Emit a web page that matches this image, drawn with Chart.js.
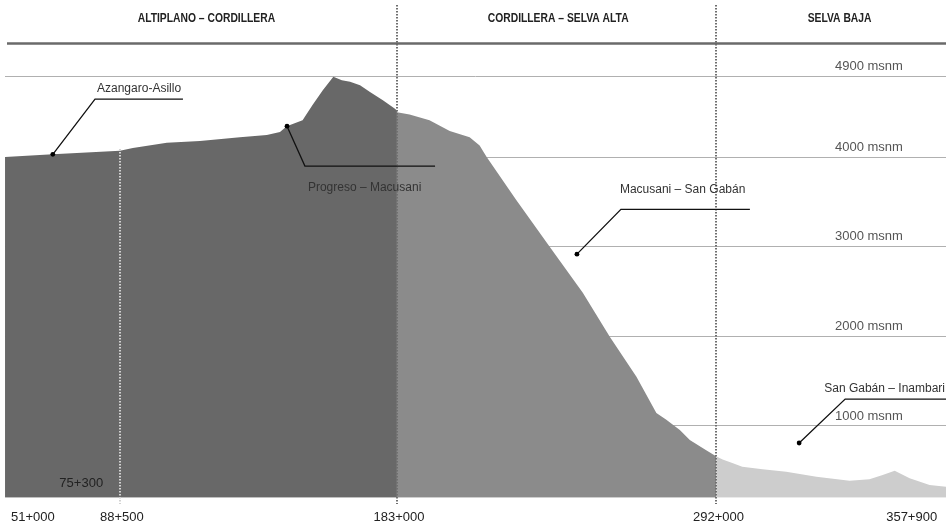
<!DOCTYPE html>
<html>
<head>
<meta charset="utf-8">
<script src="https://cdn.jsdelivr.net/npm/chart.js@4.4.1/dist/chart.umd.min.js"></script>
<style>
  html, body { margin: 0; padding: 0; background: #fff; }
  canvas { display: block; }
</style>
</head>
<body>
<canvas id="perfil" width="946" height="526"></canvas>
<script>
// km (progresiva) vs msnm
const altiplanoKm   = [49.3, 65.6, 88.5, 92.9, 104.5, 115.8, 129.4, 138.6, 143.1, 145.4, 150.8, 154.2, 157.7, 161.3, 164.2, 167.0, 170.4, 173.8, 178.2, 182.2, 183];
const altiplanoElev = [4000, 4030, 4070, 4100, 4160, 4180, 4220, 4245, 4280, 4345, 4410, 4580, 4745, 4895, 4858, 4839, 4802, 4727, 4634, 4542, 4520];

const cordilleraKm   = [183, 187.3, 194.1, 201, 207.8, 211.2, 213.6, 223.7, 235.1, 246.4, 255.6, 264.7, 271.5, 274.9, 279.5, 282.9, 288.5, 292];
const cordilleraElev = [4500, 4475, 4410, 4290, 4220, 4130, 4000, 3520, 3000, 2485, 1995, 1550, 1145, 1070, 955, 845, 730, 660];

const selvaKm   = [292, 294.1, 297.4, 300.8, 307.7, 315.8, 326.1, 337.4, 344.2, 348.7, 352.8, 357.9, 364.7, 370.3];
const selvaElev = [660, 625, 587, 546, 517, 490, 434, 390, 405, 453, 501, 416, 342, 323];

const tickKm     = [51, 88.5, 183, 292, 357.9];
const tickLabels = ['51+000', '88+500', '183+000', '292+000', '357+900'];

const gridElev   = [1000, 2000, 3000, 4000, 4900];
const gridLabels = ['1000 msnm', '2000 msnm', '3000 msnm', '4000 msnm', '4900 msnm'];

const sectionKm     = [118, 238, 334];
const sectionLabels = ['ALTIPLANO – CORDILLERA', 'CORDILLERA – SELVA ALTA', 'SELVA BAJA'];

const dividerKm = [183, 292];

// tramos: dot on/near the profile, elbow of the leader, end of underline
const tramos = [
  { text: 'Azangaro-Asillo',      dot: [65.6, 4030],  elbow: [80.0, 4646],  end: 110,   dx: 2,  dy: -7,  align: 'left' },
  { text: 'Progreso – Macusani',  dot: [145.5, 4344], elbow: [151.6, 3899], end: 196,   dx: 3,  dy: 25,  align: 'left' },
  { text: 'Macusani – San Gabán', dot: [244.4, 2917], elbow: [259.4, 3416], end: 303.4, dx: -1, dy: -16, align: 'left' },
  { text: 'San Gabán – Inambari', dot: [320.2, 810],  elbow: [335.9, 1300], end: 370.3, dx: -1, dy: -7,  align: 'right' }
];

const toXY = (xs, ys) => xs.map((x, i) => ({ x: x, y: ys[i] }));

const FONT = '"Liberation Sans", Arial, sans-serif';

const decor = {
  id: 'decor',
  afterDatasetsDraw(chart) {
    const ctx = chart.ctx;
    const xs = chart.scales.x, ys = chart.scales.y;
    const area = chart.chartArea;
    ctx.save();

    // dotted section dividers
    ctx.strokeStyle = '#6f6f6f';
    ctx.lineWidth = 2;
    ctx.setLineDash([1.5, 1.5]);
    dividerKm.forEach(k => {
      const px = Math.round(xs.getPixelForValue(k));
      ctx.beginPath();
      ctx.moveTo(px, 5);
      ctx.lineTo(px, 504);
      ctx.stroke();
    });
    // light dotted line at 88+500
    ctx.strokeStyle = '#d2d2d2';
    const p88 = Math.round(xs.getPixelForValue(88.5));
    ctx.beginPath();
    ctx.moveTo(p88, ys.getPixelForValue(4090));
    ctx.lineTo(p88, 504);
    ctx.stroke();
    ctx.setLineDash([]);

    // header rule
    ctx.strokeStyle = '#6a6a6a';
    ctx.lineWidth = 2.5;
    ctx.beginPath();
    ctx.moveTo(area.left + 2, 43.5);
    ctx.lineTo(area.right, 43.5);
    ctx.stroke();

    // section titles
    ctx.fillStyle = '#222';
    ctx.font = 'bold 12px ' + FONT;
    ctx.textAlign = 'center';
    ctx.textBaseline = 'middle';
    sectionLabels.forEach((t, i) => {
      ctx.save();
      ctx.translate(xs.getPixelForValue(sectionKm[i]), 19);
      ctx.scale(0.86, 1);
      ctx.fillText(t, 0, 0);
      ctx.restore();
    });

    // elevation labels
    ctx.fillStyle = '#555';
    ctx.font = '13px ' + FONT;
    ctx.textAlign = 'left';
    ctx.textBaseline = 'middle';
    gridElev.forEach((v, i) => {
      ctx.fillText(gridLabels[i], 835, ys.getPixelForValue(v) - 10);
    });

    // tramo annotations
    tramos.forEach(a => {
      const dx = xs.getPixelForValue(a.dot[0]), dy = ys.getPixelForValue(a.dot[1]);
      const ex = xs.getPixelForValue(a.elbow[0]), ey = ys.getPixelForValue(a.elbow[1]);
      const fx = xs.getPixelForValue(a.end);
      ctx.strokeStyle = '#111';
      ctx.lineWidth = 1.3;
      ctx.beginPath();
      ctx.moveTo(dx, dy);
      ctx.lineTo(ex, ey);
      ctx.lineTo(fx, ey);
      ctx.stroke();
      ctx.fillStyle = '#000';
      ctx.beginPath();
      ctx.arc(dx, dy, 2.4, 0, Math.PI * 2);
      ctx.fill();
      ctx.fillStyle = '#333';
      ctx.font = '12px ' + FONT;
      ctx.textBaseline = 'alphabetic';
      ctx.textAlign = a.align;
      const tx = a.align === 'right' ? fx - 1 : ex + a.dx;
      ctx.fillText(a.text, tx, ey + a.dy);
    });

    // km tick labels
    ctx.fillStyle = '#222';
    ctx.font = '13px ' + FONT;
    ctx.textBaseline = 'middle';
    tickKm.forEach((k, i) => {
      const px = xs.getPixelForValue(k);
      ctx.textAlign = i === 0 ? 'left' : 'center';
      ctx.fillText(tickLabels[i], i === 0 ? px + 1 : px + 2, 517);
    });
    ctx.textAlign = 'center';
    ctx.fillText('75+300', xs.getPixelForValue(75.3), 483);

    ctx.restore();
  }
};

new Chart(document.getElementById('perfil'), {
  type: 'line',
  data: {
    datasets: [
      { data: toXY(altiplanoKm, altiplanoElev),   backgroundColor: '#686868', fill: 'start' },
      { data: toXY(cordilleraKm, cordilleraElev), backgroundColor: '#8b8b8b', fill: 'start' },
      { data: toXY(selvaKm, selvaElev),           backgroundColor: '#cdcdcd', fill: 'start' }
    ]
  },
  options: {
    responsive: false,
    animation: false,
    devicePixelRatio: 1,
    layout: { padding: { left: 5, right: 0, top: 45, bottom: 28.3 } },
    elements: {
      line: { borderWidth: 0, tension: 0 },
      point: { radius: 0, hoverRadius: 0 }
    },
    plugins: { legend: { display: false }, tooltip: { enabled: false } },
    scales: {
      x: { type: 'linear', min: 49.29, max: 370.3, display: false },
      y: {
        type: 'linear',
        min: 200,
        max: 5250,
        afterBuildTicks: s => { s.ticks = gridElev.map(v => ({ value: v })); },
        afterFit: s => { s.width = 0; },
        ticks: { display: false },
        border: { display: false },
        grid: { color: '#b0b0b0', lineWidth: 1, drawTicks: false }
      }
    }
  },
  plugins: [decor]
});
</script>
</body>
</html>
